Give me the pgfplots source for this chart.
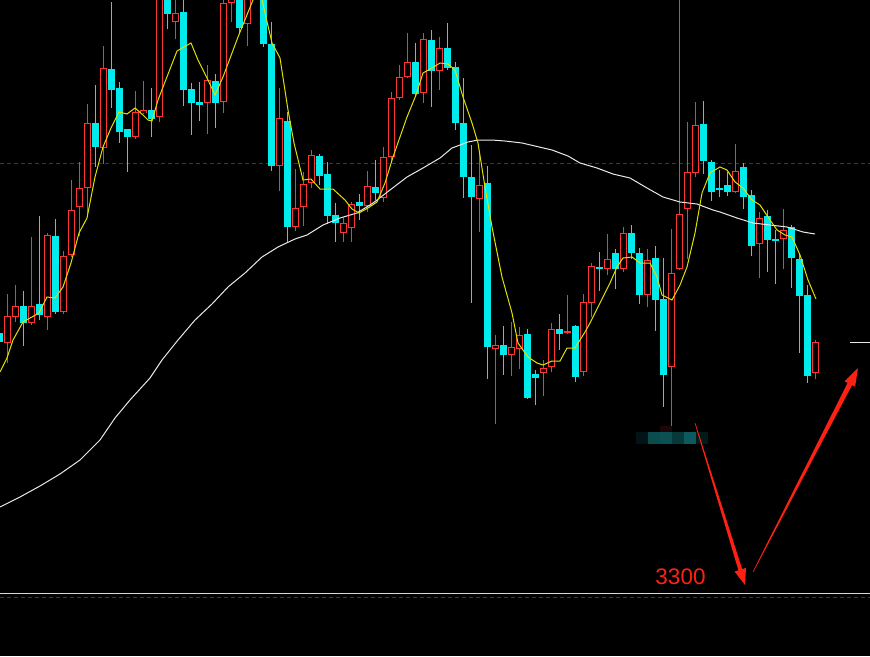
\documentclass[border=0pt]{standalone}
\usepackage{pgfplots}
\pgfplotsset{compat=1.18}
\usepackage{pgfplotstable}
\usepackage{fontspec}
\setmainfont{Liberation Sans}
\definecolor{cR}{RGB}{255,52,52}
\definecolor{cC}{RGB}{0,236,236}
\definecolor{cY}{RGB}{225,225,0}
\definecolor{cW}{RGB}{232,232,232}
\definecolor{cD}{RGB}{140,20,20}
\definecolor{cA}{RGB}{255,32,20}
\definecolor{bx0}{RGB}{3,20,24}
\definecolor{bx1}{RGB}{10,77,77}
\definecolor{bx2}{RGB}{11,80,82}
\definecolor{bx3}{RGB}{6,57,58}
\definecolor{bx4}{RGB}{12,90,94}
\definecolor{bx5}{RGB}{4,26,26}
\definecolor{bxr}{RGB}{28,6,6}

% columns: x  high  body-top  body-bottom  low   (pixel rows, y grows downward)
\pgfplotstableread{
x hi top bot lo
7.3 294 316 343 363
15.3 285 306 317 322
31.3 237 306 323 325
47.3 233 235 317 330
63.3 251 256 312 314
71.3 180 210 255 257
79.3 162 188 207 236
87.3 104 123 188 217
103.3 46 68 148 164
135.3 91 112 137 139
143.3 81 110 113 114
159.3 -20 -10 117 122
175.3 -10 13 22 39
207.3 65 80 103 134
223.3 -10 3 102 113
231.3 -30 -10 3 22
247.3 -30 -10 24 46
279.3 88 118 166 191
295.3 169 208 227 231
303.3 172 184 207 226
311.3 150 155 183 188
343.3 217 223 233 242
351.3 202 204 228 242
367.3 171 186 206 212
383.3 147 157 198 202
391.3 92 98 157 161
399.3 65 77 98 100
407.3 33 62 77 78
423.3 33 39 93 103
439.3 37 48 71 90
479.3 153 185 199 232
495.3 335 345 349 424
511.3 322 347 355 376
519.3 327 335 349 369
543.3 360 368 373 396
551.3 323 329 367 372
567.3 295 331 333 334
583.3 294 302 372 376
591.3 263 266 303 317
607.3 234 259 269 275
623.3 227 233 269 272
647.3 249 260 295 307
671.3 229 273 367 427
679.3 -10 214 269 270
687.3 122 172 209 259
695.3 102 125 173 177
735.3 144 171 192 193
759.3 212 218 244 278
783.3 209 230 239 269
815.3 340 342 373 379
}\redc

\pgfplotstableread{
x hi top bot lo
-0.7 330 333 342 345
23.3 291 306 323 346
39.3 216 304 315 320
55.3 219 236 312 314
95.3 85 123 147 167
111.3 2 69 90 108
119.3 82 88 132 143
127.3 129 129 137 172
151.3 88 110 119 137
167.3 -20 -10 14 29
183.3 -10 12 90 106
191.3 83 89 103 135
199.3 82 102 105 121
215.3 74 81 103 128
239.3 -20 -10 28 33
263.3 -20 -10 44 47
271.3 22 44 166 171
287.3 112 121 227 243
319.3 154 156 176 185
327.3 162 174 216 224
335.3 203 215 223 242
359.3 194 202 206 220
375.3 160 187 193 200
415.3 43 62 94 97
431.3 30 40 71 107
447.3 23 48 68 70
455.3 62 67 123 130
463.3 78 123 177 198
471.3 145 177 197 303
487.3 166 183 347 379
503.3 326 345 355 375
527.3 329 334 398 399
535.3 370 374 378 405
559.3 314 329 334 350
575.3 325 326 377 382
599.3 252 267 269 291
615.3 249 253 269 289
631.3 225 233 253 259
639.3 248 253 295 304
655.3 246 258 300 331
663.3 258 299 375 407
703.3 101 124 161 174
711.3 160 162 192 201
719.3 170 188 190 197
727.3 172 185 192 196
743.3 163 167 197 209
751.3 190 195 246 256
767.3 210 216 240 272
775.3 230 239 241 284
791.3 225 227 258 288
799.3 254 259 296 353
807.3 285 295 376 383
}\cyanc

\begin{document}
\begin{tikzpicture}
\useasboundingbox (0,0) rectangle (870pt,656pt);
\fill[black] (0,0) rectangle (870pt,656pt);
\begin{axis}[
  at={(0,0)}, anchor=south west,
  width=870pt, height=656pt, scale only axis,
  xmin=0, xmax=870, ymin=0, ymax=656, y dir=reverse,
  hide axis, clip=true,
]
% reference lines
\addplot[cD, line width=1pt, dash pattern=on 4pt off 3pt, forget plot] coordinates {(0,163) (870,163)};
\addplot[cD, line width=1pt, dash pattern=on 4pt off 3pt, forget plot] coordinates {(0,597) (870,597)};
\addplot[cW!90!red, line width=1pt, forget plot] coordinates {(0,593) (870,593)};
\addplot[cW, line width=1pt, forget plot] coordinates {(850,342) (870,342)};

% wicks
\addplot[draw=none, mark=none, forget plot, error bars/.cd, y dir=both, y explicit, error mark=none,
  error bar style={draw=cR, solid, line width=1pt}]
  table[x=x, y expr={(\thisrow{hi}+\thisrow{lo})/2}, y error expr={(\thisrow{lo}-\thisrow{hi})/2}] {\redc};
\addplot[draw=none, mark=none, forget plot, error bars/.cd, y dir=both, y explicit, error mark=none,
  error bar style={draw=cC, solid, line width=1pt}]
  table[x=x, y expr={(\thisrow{hi}+\thisrow{lo})/2}, y error expr={(\thisrow{lo}-\thisrow{hi})/2}] {\cyanc};

% bodies
\addplot[draw=none, mark=none, forget plot, error bars/.cd, y dir=both, y explicit, error mark=none,
  error bar style={draw=cC, solid, line width=7pt}]
  table[x=x, y expr={(\thisrow{top}+\thisrow{bot})/2}, y error expr={max((\thisrow{bot}-\thisrow{top})/2,0.7)}] {\cyanc};
\addplot[draw=none, mark=none, forget plot, error bars/.cd, y dir=both, y explicit, error mark=none,
  error bar style={draw=cR, solid, line width=7pt}]
  table[x=x, y expr={(\thisrow{top}+\thisrow{bot})/2}, y error expr={max((\thisrow{bot}-\thisrow{top})/2,0.7)}] {\redc};
\addplot[draw=none, mark=none, forget plot, error bars/.cd, y dir=both, y explicit, error mark=none,
  error bar style={draw=black, solid, line width=5pt}]
  table[x=x, y expr={(\thisrow{top}+\thisrow{bot})/2}, y error expr={max((\thisrow{bot}-\thisrow{top})/2-1,0)}] {\redc};

% moving averages
\addplot[cW, line width=1pt, forget plot] coordinates {
(0,507) (20,497) (40,486) (60,474) (80,460) (100,440) (115,418) (130,400) (150,378) (162,360) (178,340) (195,320) (212,304) (228,287) (245,273) (262,257) (278,247) (295,239) (307,235) (323,225) (340,218) (357,213) (373,203) (390,190) (407,177) (423,168) (440,158) (452,148) (468,142) (478,140) (492,140) (505,141) (522,143) (535,146) (552,150) (568,156) (580,163) (597,168) (613,174) (630,178) (647,188) (663,197) (680,202) (697,204) (713,210) (720,212) (737,218) (753,223) (770,225) (787,227) (803,232) (815,234)};
\addplot[cY, line width=1pt, forget plot] coordinates {
(0,372) (7,358) (13,340) (23,322) (39,313) (47,297) (55,298) (63,287) (71,263) (79,233) (87,218) (95,177) (103,147) (111,128) (119,112) (127,114) (135,108) (143,115) (148,120) (152,121) (158,100) (177,51) (191,43) (198,60) (208,80) (215,95) (223,77) (238,37) (253,0) (257,-10) (260,-5) (262,0) (272,43) (280,58) (288,110) (294,143) (303,180) (311,179) (320,189) (333,189) (345,200) (352,209) (359,213) (368,208) (377,202) (385,183) (393,157) (407,117) (416,95) (423,73) (432,68) (440,63) (448,64) (455,70) (463,97) (472,123) (478,143) (485,187) (492,227) (502,277) (512,313) (518,343) (528,357) (537,363) (543,365) (552,361) (560,361) (567,348) (575,348) (580,340) (585,332) (590,323) (600,303) (610,283) (617,267) (623,258) (632,257) (640,263) (650,263) (657,277) (662,295) (672,300) (680,285) (687,267) (695,233) (702,193) (710,173) (720,167) (727,170) (735,182) (743,188) (752,200) (760,205) (768,217) (777,230) (785,235) (792,237) (800,255) (808,280) (816,299)};

% blurred label box
\fill[bxr] (axis cs:660,426) rectangle (axis cs:672,432);
\fill[bx0] (axis cs:636,432) rectangle (axis cs:648,444);
\fill[bx1] (axis cs:648,432) rectangle (axis cs:660,444);
\fill[bx2] (axis cs:660,432) rectangle (axis cs:672,444);
\fill[bx3] (axis cs:672,432) rectangle (axis cs:684,444);
\fill[bx4] (axis cs:684,432) rectangle (axis cs:696,444);
\fill[bx5] (axis cs:696,432) rectangle (axis cs:708,444);

% arrows
\fill[cA] (axis cs:695.3,422.9) -- (axis cs:742.2,569.1) -- (axis cs:746.0,567.9) -- (axis cs:745,585) -- (axis cs:734.6,571.5) -- (axis cs:738.4,570.3) -- (axis cs:694.7,423.1) -- cycle;
\fill[cA] (axis cs:753.3,572.1) -- (axis cs:852.0,385.2) -- (axis cs:855.1,386.7) -- (axis cs:858,368) -- (axis cs:844.5,381.3) -- (axis cs:847.6,382.9) -- (axis cs:752.7,571.9) -- cycle;

\node[text=cA, font=\fontsize{22.5}{24}\selectfont, inner sep=0pt] at (axis cs:680.5,577) {3300};
\end{axis}
\end{tikzpicture}
\end{document}
